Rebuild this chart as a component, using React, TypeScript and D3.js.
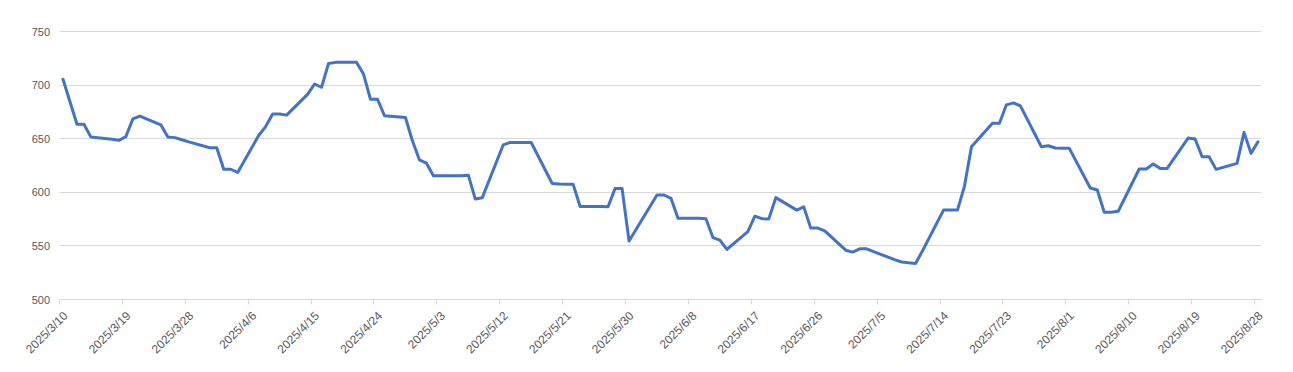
import React, { useEffect, useRef } from 'react';
import * as d3 from 'd3';

// trading days (2025/6/2 has no value in the source)
const dates = [
  '2025/3/10', '2025/3/11', '2025/3/12', '2025/3/13', '2025/3/14',
  '2025/3/17', '2025/3/18', '2025/3/19', '2025/3/20', '2025/3/21',
  '2025/3/24', '2025/3/25', '2025/3/26', '2025/3/27', '2025/3/28',
  '2025/3/31', '2025/4/1', '2025/4/2', '2025/4/3', '2025/4/4',
  '2025/4/7', '2025/4/8', '2025/4/9', '2025/4/10', '2025/4/11',
  '2025/4/14', '2025/4/15', '2025/4/16', '2025/4/17', '2025/4/18',
  '2025/4/21', '2025/4/22', '2025/4/23', '2025/4/24', '2025/4/25',
  '2025/4/28', '2025/4/29', '2025/4/30', '2025/5/1', '2025/5/2',
  '2025/5/5', '2025/5/6', '2025/5/7', '2025/5/8', '2025/5/9',
  '2025/5/12', '2025/5/13', '2025/5/14', '2025/5/15', '2025/5/16',
  '2025/5/19', '2025/5/20', '2025/5/21', '2025/5/22', '2025/5/23',
  '2025/5/26', '2025/5/27', '2025/5/28', '2025/5/29', '2025/5/30',
  '2025/6/3', '2025/6/4', '2025/6/5', '2025/6/6',
  '2025/6/9', '2025/6/10', '2025/6/11', '2025/6/12', '2025/6/13',
  '2025/6/16', '2025/6/17', '2025/6/18', '2025/6/19', '2025/6/20',
  '2025/6/23', '2025/6/24', '2025/6/25', '2025/6/26', '2025/6/27',
  '2025/6/30', '2025/7/1', '2025/7/2', '2025/7/3', '2025/7/4',
  '2025/7/7', '2025/7/8', '2025/7/9', '2025/7/10', '2025/7/11',
  '2025/7/14', '2025/7/15', '2025/7/16', '2025/7/17', '2025/7/18',
  '2025/7/21', '2025/7/22', '2025/7/23', '2025/7/24', '2025/7/25',
  '2025/7/28', '2025/7/29', '2025/7/30', '2025/7/31', '2025/8/1',
  '2025/8/4', '2025/8/5', '2025/8/6', '2025/8/7', '2025/8/8',
  '2025/8/11', '2025/8/12', '2025/8/13', '2025/8/14', '2025/8/15',
  '2025/8/18', '2025/8/19', '2025/8/20', '2025/8/21', '2025/8/22',
  '2025/8/25', '2025/8/26', '2025/8/27', '2025/8/28'
];

const values = [
  705.5, 684.5, 663.5, 663.5, 651.5,
  649.5, 648.5, 652, 668.5, 671,
  663, 651.5, 651, 649, 647,
  641.5, 641.5, 621.5, 621.5, 618.5,
  653, 661.3, 673, 673, 672,
  691.3, 701, 698, 720.2, 721.2,
  721.2, 710.3, 686.8, 686.8, 671.5,
  669.8, 648, 630.3, 627.3, 615.5,
  615.5, 615.5, 616, 593.7, 595,
  644.3, 646.5, 646.5, 646.5, 646.5,
  608.2, 607.8, 607.6, 607.4, 586.8,
  586.8, 586.6, 603.6, 603.6, 554.5,
  597.5, 597.5, 594.4, 575.8,
  575.8, 575.4, 557.8, 555.4, 546.7,
  563.4, 577.7, 575.4, 575.2, 595,
  583.4, 586.4, 566.6, 566.6, 564,
  546, 544.2, 547.3, 547.3, 544.6,
  537.2, 535, 534.2, 533.6, 545.5,
  583.4, 583.4, 583.4, 605.8, 642.6,
  664.4, 664.4, 681.6, 683.4, 680.6,
  642.5, 643.4, 641.3, 641.2, 641,
  604, 602.2, 581.4, 581.4, 582.3,
  621.7, 621.7, 626.4, 622.3, 622.3,
  650.6, 649.7, 633.2, 633.2, 621.4,
  627, 655.9, 636.3, 647.2
];

const yTicks = [500, 550, 600, 650, 700, 750];
const axisStart = '2025/3/10';
const axisEnd = '2025/8/29';
const tickEveryDays = 9;

const parseDay = (s: string) => {
  const [y, m, d] = s.split('/').map(Number);
  return new Date(Date.UTC(y, m - 1, d));
};

const App = () => {
  const svgRef = useRef<SVGSVGElement>(null);

  useEffect(() => {
    const width = 1293,
      height = 372,
      left = 59.5,
      right = 1261.5,
      top = 31.5,
      bottom = 299.5;

    const svg = d3.select(svgRef.current);
    svg.selectAll('*').remove();

    const start = parseDay(axisStart);
    const end = parseDay(axisEnd);

    const x = d3.scaleUtc().domain([start, end]).range([left, right]);
    const y = d3.scaleLinear().domain([500, 750]).range([bottom, top]);

    const font = '"Liberation Sans", Arial, sans-serif';

    // horizontal grid
    svg.append('g')
      .selectAll('line')
      .data(yTicks)
      .enter()
      .append('line')
      .attr('x1', left)
      .attr('x2', right)
      .attr('y1', d => Math.round(y(d) - 0.5) + 0.5)
      .attr('y2', d => Math.round(y(d) - 0.5) + 0.5)
      .attr('stroke', '#d9d9d9')
      .attr('stroke-width', 1);

    // y labels
    svg.append('g')
      .selectAll('text')
      .data(yTicks)
      .enter()
      .append('text')
      .attr('x', 50)
      .attr('y', d => y(d) + 4)
      .attr('text-anchor', 'end')
      .attr('fill', '#595959')
      .style('font-family', font)
      .style('font-size', '11px')
      .text(d => d);

    // x ticks every 9 days
    const tickDates = d3.utcDay.range(start, end, tickEveryDays);
    const fmt = d3.utcFormat('%Y/%-m/%-d');

    const xg = svg.append('g');
    xg.selectAll('line')
      .data(tickDates)
      .enter()
      .append('line')
      .attr('x1', d => Math.round(x(d) - 0.5) + 0.5)
      .attr('x2', d => Math.round(x(d) - 0.5) + 0.5)
      .attr('y1', bottom)
      .attr('y2', bottom + 5)
      .attr('stroke', '#d9d9d9');

    xg.selectAll('text')
      .data(tickDates)
      .enter()
      .append('text')
      .attr('transform', d => `translate(${x(d) + 9},${bottom + 17}) rotate(-45)`)
      .attr('text-anchor', 'end')
      .attr('fill', '#595959')
      .style('font-family', font)
      .style('font-size', '12px')
      .text(d => fmt(d));

    // line, points sit in the middle of each day
    const points = dates.map((s, i) => ({
      date: new Date(parseDay(s).getTime() + 12 * 3600 * 1000),
      value: values[i]
    }));

    const line = d3.line<{ date: Date; value: number }>()
      .x(d => x(d.date))
      .y(d => y(d.value));

    svg.append('path')
      .attr('d', line(points))
      .attr('fill', 'none')
      .attr('stroke', '#4472c4')
      .attr('stroke-width', 3)
      .attr('stroke-linejoin', 'round')
      .attr('stroke-linecap', 'round');

    svg.attr('width', width).attr('height', height);
  }, []);

  return (
    <div style={{ position: 'absolute', left: 0, top: 0, background: '#fff' }}>
      <svg ref={svgRef} style={{ display: 'block' }}></svg>
    </div>
  );
};

export default App;
